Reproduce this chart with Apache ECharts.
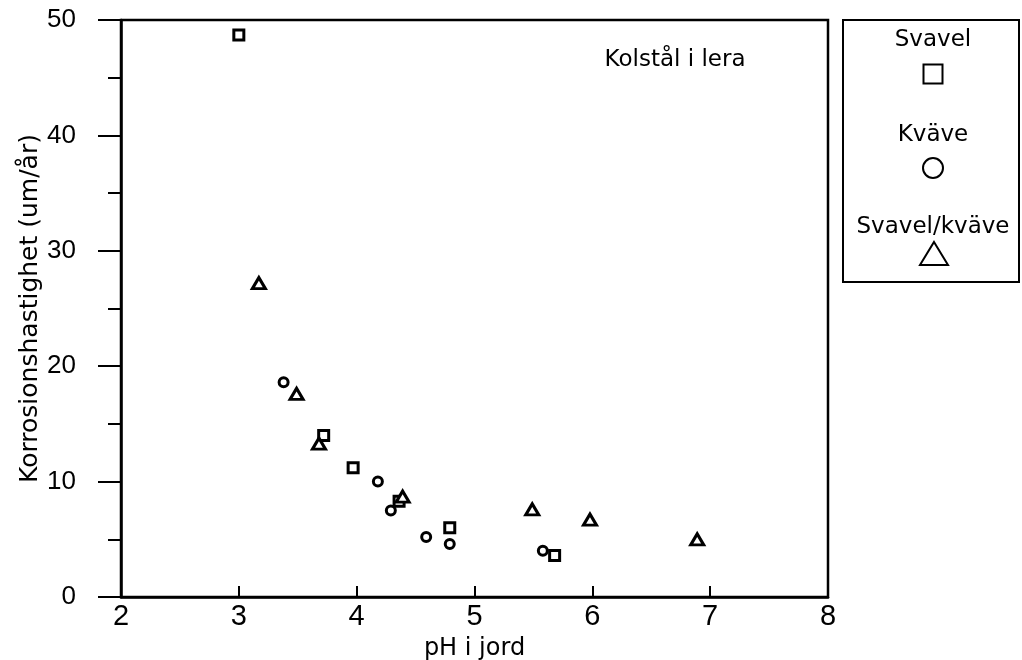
<!DOCTYPE html>
<html>
<head>
<meta charset="utf-8">
<script src="https://cdn.jsdelivr.net/npm/echarts@6/dist/echarts.min.js"></script>
<style>html,body{margin:0;padding:0;background:#fff}#c{width:1022px;height:660px}</style>
</head>
<body>
<div id="c"></div>
<script>
// Data (pH, corrosion rate um/år)
const seriesNames = ['Svavel', 'Kväve', 'Svavel/kväve'];
const svavel = [[3.0, 48.7], [3.72, 14.0], [3.97, 11.2], [4.36, 8.3], [4.79, 6.0], [5.68, 3.6]];
const kvave = [[3.38, 18.6], [4.18, 10.0], [4.29, 7.5], [4.59, 5.2], [4.79, 4.6], [5.58, 4.0]];
const svavelKvave = [[3.17, 27.2], [3.49, 17.6], [3.68, 13.3], [4.39, 8.7], [5.49, 7.6], [5.98, 6.7], [6.89, 5.0]];
const xTicks = [2, 3, 4, 5, 6, 7, 8];
const yTicks = [0, 10, 20, 30, 40, 50];
const titleText = 'Kolstål i lera';
const xName = 'pH i jord';
const yName = 'Korrosionshastighet (um/år)';

const FONT = 'DejaVu Sans';
const NUMFONT = 'Liberation Sans';
const chart = echarts.init(document.getElementById('c'), null, {renderer: 'canvas'});

const symbols = ['rect', 'circle', 'triangle'];
const sizes = [10, 9, [13, 11]];
const datas = [svavel, kvave, svavelKvave];

// legend graphics
const legendCx = 933;
const legendTextY = [40, 135, 227];
const legendSymY = [74, 168, 254];
const legendEls = [{
  type: 'rect', shape: {x: 843, y: 20, width: 176, height: 262},
  style: {fill: 'none', stroke: '#000', lineWidth: 2}
}];
seriesNames.forEach((n, i) => {
  legendEls.push({type: 'text', x: legendCx, y: legendTextY[i],
    style: {text: n, fontSize: 23, fontFamily: FONT, fill: '#000', align: 'center', verticalAlign: 'middle'}});
  const cy = legendSymY[i];
  if (i === 0) legendEls.push({type: 'rect', shape: {x: legendCx - 9.5, y: cy - 9.5, width: 19, height: 19}, style: {fill: 'none', stroke: '#000', lineWidth: 2}});
  if (i === 1) legendEls.push({type: 'circle', shape: {cx: legendCx, cy: cy, r: 10}, style: {fill: 'none', stroke: '#000', lineWidth: 2}});
  if (i === 2) legendEls.push({type: 'polygon', shape: {points: [[legendCx + 1, cy - 12], [legendCx + 15, cy + 11], [legendCx - 13, cy + 11]]}, style: {fill: 'none', stroke: '#000', lineWidth: 2}});
});
legendEls.push({type: 'text', x: 675, y: 60,
  style: {text: titleText, fontSize: 23, fontFamily: FONT, fill: '#000', align: 'center', verticalAlign: 'middle'}});

chart.setOption({
  animation: false,
  backgroundColor: '#fff',
  grid: {left: 121, right: 194, top: 20, bottom: 63, outerBoundsMode: 'none', containLabel: false,
    show: true, borderColor: '#000', borderWidth: 2.5, backgroundColor: 'transparent'},
  xAxis: {
    type: 'value', min: xTicks[0], max: xTicks[xTicks.length - 1], interval: 1,
    name: xName, nameLocation: 'middle', nameGap: 40, nameMoveOverlap: false,
    nameTextStyle: {fontFamily: FONT, fontSize: 24, color: '#000'},
    axisLine: {show: true, lineStyle: {color: '#000', width: 2.5}},
    axisTick: {show: true, inside: true, length: 11, lineStyle: {color: '#000', width: 2}},
    axisLabel: {fontFamily: NUMFONT, fontSize: 29, color: '#000', margin: 5},
    splitLine: {show: false}
  },
  yAxis: {
    type: 'value', min: yTicks[0], max: yTicks[yTicks.length - 1], interval: 10,
    name: yName, nameLocation: 'middle', nameGap: 78, nameMoveOverlap: false,
    nameTextStyle: {fontFamily: FONT, fontSize: 25, color: '#000'},
    axisLine: {show: true, lineStyle: {color: '#000', width: 2.5}},
    axisTick: {show: true, inside: false, length: 23, lineStyle: {color: '#000', width: 2}},
    minorTick: {show: true, splitNumber: 2, length: 13, lineStyle: {color: '#000', width: 2}},
    axisLabel: {fontFamily: NUMFONT, fontSize: 26, color: '#000', margin: 45},
    splitLine: {show: false}
  },
  series: seriesNames.map((n, i) => ({
    type: 'scatter', name: n, data: datas[i], symbol: symbols[i], symbolSize: sizes[i],
    itemStyle: {color: '#fff', borderColor: '#000', borderWidth: 3, opacity: 1}
  })),
  graphic: legendEls
});
</script>
</body>
</html>
